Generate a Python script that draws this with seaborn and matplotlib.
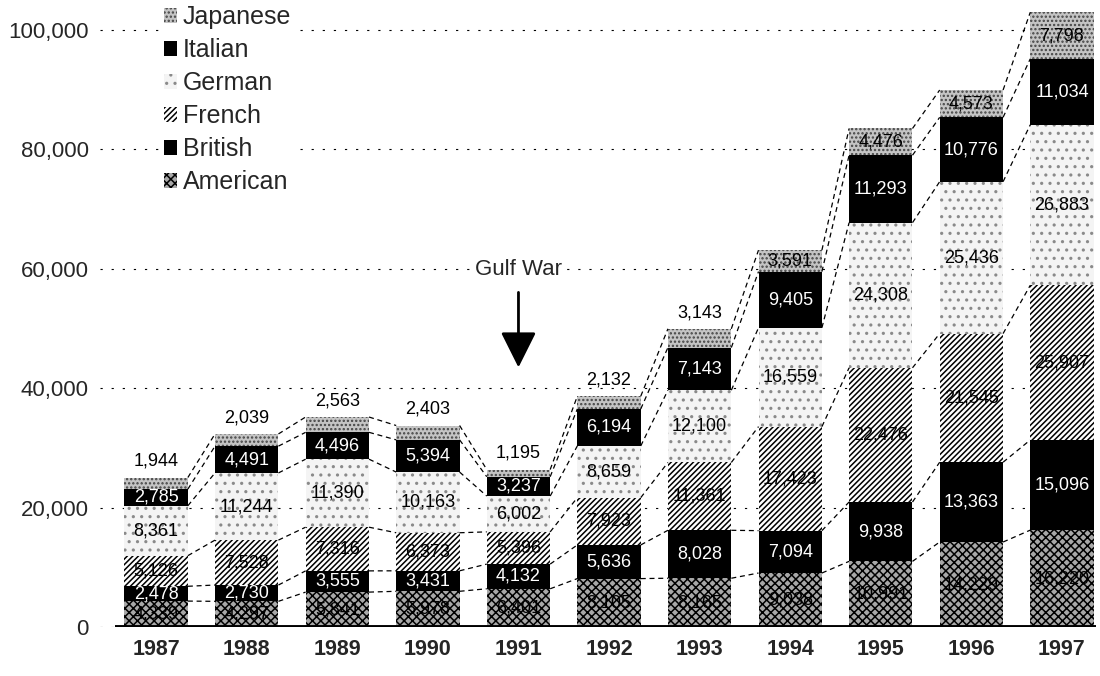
import numpy as np
import seaborn as sns
import matplotlib.pyplot as plt
from matplotlib.patches import Patch

# data
years = ['1987', '1988', '1989', '1990', '1991', '1992', '1993', '1994', '1995', '1996', '1997']
american = [4339, 4297, 5841, 5978, 6401, 8105, 8165, 9038, 10991, 14229, 16220]
british = [2478, 2730, 3555, 3431, 4132, 5636, 8028, 7094, 9938, 13363, 15096]
french = [5126, 7528, 7316, 6373, 5396, 7923, 11361, 17423, 22476, 21545, 25907]
german = [8361, 11244, 11390, 10163, 6002, 8659, 12100, 16559, 24308, 25436, 26883]
italian = [2785, 4491, 4496, 5394, 3237, 6194, 7143, 9405, 11293, 10776, 11034]
japanese = [1944, 2039, 2563, 2403, 1195, 2132, 3143, 3591, 4476, 4573, 7798]
series_names = ['American', 'British', 'French', 'German', 'Italian', 'Japanese']
yticks = [0, 20000, 40000, 60000, 80000, 100000]

# styles (bottom to top)
face = ['#a8a8a8', 'black', 'white', '#f4f4f4', 'black', '#c4c4c4']
hatch_edge = ['black', 'black', 'black', '#8a8a8a', 'black', '#444444']
hatches = ['xxxx', None, '//////', '..', None, '....']
text_col = ['black', 'white', 'black', 'black', 'white', 'black']

sns.set_style('white')
plt.rcParams['font.family'] = ['Liberation Sans', 'DejaVu Sans']
plt.rcParams['hatch.linewidth'] = 1.1

layers = np.array([american, british, french, german, italian, japanese], dtype=float)
cum = np.cumsum(layers, axis=0)
bottoms = cum - layers

fig = plt.figure(figsize=(11, 6.76), dpi=100)
ax = fig.add_axes([0.0909, 0.0725, 0.9091, 0.9275])
bw = 0.7

# stacked bars via overlay of cumulative totals (top layer first)
for k in range(5, -1, -1):
    sns.barplot(x=years, y=cum[k], color=face[k], saturation=1, width=bw,
                hatch=hatches[k], edgecolor=hatch_edge[k], linewidth=0, ax=ax)

# dashed connectors between neighbouring bars
for k in range(6):
    for i in range(len(years) - 1):
        ax.plot([i + bw / 2, i + 1 - bw / 2], [cum[k][i], cum[k][i + 1]],
                ls=(0, (4, 3)), color='black', lw=0.9, zorder=3)

# value labels
for k in range(6):
    for i in range(len(years)):
        v = layers[k][i]
        y = bottoms[k][i] + v / 2
        col = text_col[k]
        if k == 5 and v < 3300:
            y = cum[k][i] + 2700
            col = 'black'
        ax.text(i, y, f'{int(v):,}', ha='center', va='center', fontsize=13,
                color=col, zorder=5)

ax.plot([-0.45, 10.38], [0, 0], color='black', lw=2.8, solid_capstyle='butt', zorder=4)

ax.set_xlim(-0.62, 10.42)
ax.set_ylim(0, 105000)
ax.set_yticks(yticks)
ax.set_yticklabels([f'{t:,}' for t in yticks], fontsize=16)
ax.tick_params(axis='y', length=0, pad=8)
ax.tick_params(axis='x', length=0, pad=9, labelsize=15.5)
for lab in ax.get_xticklabels():
    lab.set_fontweight('bold')
ax.set_xlabel('')
ax.set_ylabel('')
sns.despine(ax=ax, left=True, bottom=True)
ax.yaxis.grid(True, linestyle=(0, (2, 8)), color='black', lw=0.8)
ax.set_axisbelow(True)

# Gulf War annotation
ax.text(4.0, 59800, 'Gulf War', ha='center', va='center', fontsize=16,
        bbox=dict(facecolor='white', edgecolor='none', pad=1), zorder=5)
ax.annotate('', xy=(4.0, 43000), xytext=(4.0, 56500),
            arrowprops=dict(arrowstyle='-|>,head_length=1.1,head_width=0.55',
                            mutation_scale=20, color='black', lw=2))

handles = [Patch(facecolor=face[k], hatch=hatches[k], edgecolor=hatch_edge[k], linewidth=0,
                 label=series_names[k]) for k in range(5, -1, -1)]
leg = ax.legend(handles=handles, loc='upper left', bbox_to_anchor=(0.148, 0.994),
                bbox_transform=fig.transFigure, frameon=True, fontsize=18,
                handlelength=0.5, handleheight=0.5, handletextpad=0.25,
                labelspacing=0.36, borderpad=0.05, borderaxespad=0)
leg.get_frame().set_edgecolor('none')
leg.get_frame().set_facecolor('white')
leg.get_frame().set_alpha(1)

fig.savefig('out.png', dpi=100)
